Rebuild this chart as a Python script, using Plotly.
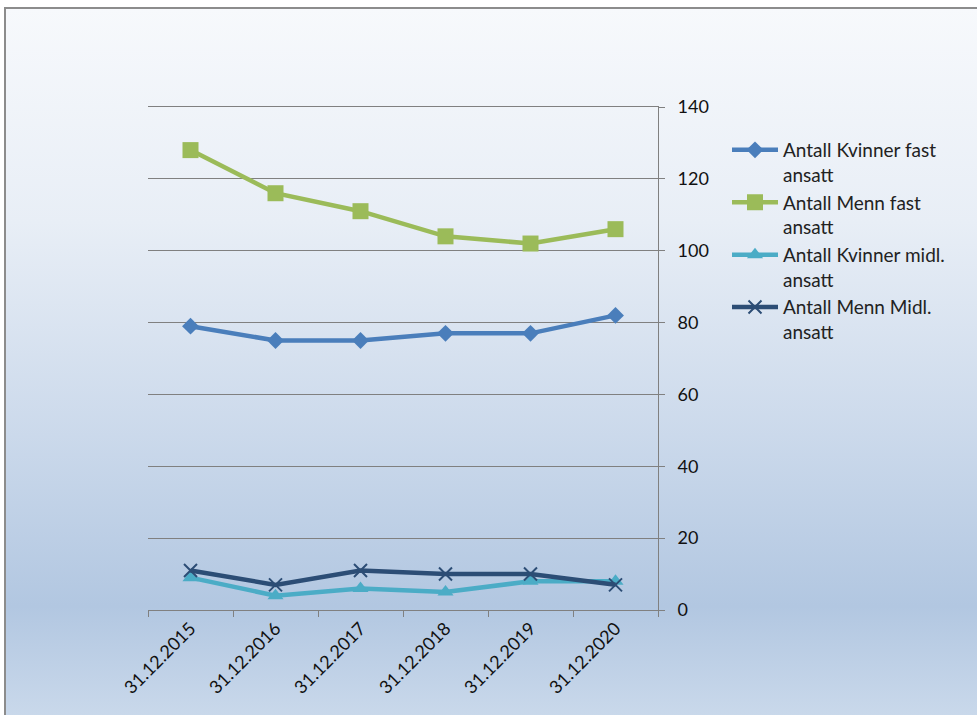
import plotly.graph_objects as go
import base64

categories = ["31.12.2015", "31.12.2016", "31.12.2017", "31.12.2018", "31.12.2019", "31.12.2020"]
kvinner_fast = [79, 75, 75, 77, 77, 82]
menn_fast = [128, 116, 111, 104, 102, 106]
kvinner_midl = [9, 4, 6, 5, 8, 8]
menn_midl = [11, 7, 11, 10, 10, 7]
y_ticks = [0, 20, 40, 60, 80, 100, 120, 140]

FONT = "Lato"
W, H = 977, 715
L, R, T, B = 148, 658, 107, 610

def px_x(p):
    return (p - L) / (R - L)

def px_y(p):
    return (B - p) / (B - T)

svg = ('<svg xmlns="http://www.w3.org/2000/svg" width="100" height="100" preserveAspectRatio="none">'
       '<defs><linearGradient id="g" x1="0" y1="0" x2="0" y2="1">'
       '<stop offset="0" stop-color="#f7f9fc"/>'
       '<stop offset="0.3" stop-color="#e8eef6"/>'
       '<stop offset="0.6" stop-color="#cbd9eb"/>'
       '<stop offset="0.84" stop-color="#b2c7e1"/>'
       '<stop offset="1" stop-color="#cad9eb"/>'
       '</linearGradient></defs><rect width="100" height="100" fill="url(#g)"/></svg>')
src = "data:image/svg+xml;base64," + base64.b64encode(svg.encode()).decode()

fig = go.Figure()
series = [
    ("Antall Kvinner fast<br>ansatt", kvinner_fast, "#4a7ebb", dict(symbol="diamond", size=13)),
    ("Antall Menn fast<br>ansatt", menn_fast, "#9bbb59", dict(symbol="square", size=16)),
    ("Antall Kvinner midl.<br>ansatt", kvinner_midl, "#4bacc6", dict(symbol="triangle-up", size=14)),
    ("Antall Menn Midl.<br>ansatt", menn_midl, "#2c4d75", dict(symbol="x-thin", size=13)),
]
for i, (name, vals, col, mk) in enumerate(series):
    marker = dict(color=col, **mk)
    if mk["symbol"] == "x-thin":
        marker["line"] = dict(color=col, width=2)
    fig.add_trace(go.Scatter(x=categories, y=vals, name=name, mode="lines+markers",
                             line=dict(color=col, width=4.5), marker=marker,
                             legendgroup=f"g{i}"))

fig.add_layout_image(dict(source=src, xref="paper", yref="paper",
                          x=px_x(5), y=px_y(8), sizex=px_x(1000) - px_x(5),
                          sizey=px_y(8) - px_y(720), xanchor="left", yanchor="top",
                          sizing="stretch", layer="below"))
fig.add_shape(type="rect", xref="paper", yref="paper",
              x0=px_x(5), x1=px_x(1010), y0=px_y(8), y1=px_y(730),
              line=dict(color="#8c8c8c", width=2), fillcolor="rgba(0,0,0,0)", layer="below")

fig.update_layout(
    width=W, height=H,
    margin=dict(l=L, r=W - R, t=T, b=H - B),
    paper_bgcolor="white", plot_bgcolor="white",
    font=dict(family=FONT, size=17, color="#111111"),
    showlegend=True,
    legend=dict(x=px_x(727), y=px_y(131), xanchor="left", yanchor="top",
                bgcolor="rgba(0,0,0,0)", valign="top", tracegroupgap=0,
                font=dict(family=FONT, size=19, color="#222222"), itemwidth=46),
    xaxis=dict(type="category", showgrid=False, showline=True, linecolor="#808080",
               linewidth=1, mirror=True, ticks="outside", tickson="boundaries", ticklen=6,
               tickcolor="#808080", tickangle=-45, range=[-0.5, 5.5],
               tickfont=dict(family=FONT, size=18, color="#111111")),
    yaxis=dict(side="right", range=[0, 140], tickvals=y_ticks, showgrid=True,
               gridcolor="#808080", gridwidth=1.3, showline=True, linecolor="#808080",
               linewidth=1, ticks="outside", ticklen=6, tickcolor="#808080",
               ticklabelstandoff=9,
               zeroline=False, tickfont=dict(family=FONT, size=18, color="#111111")),
)

fig.write_html("out.html", config={"displayModeBar": False},
               post_script="document.body.style.margin='0';")
